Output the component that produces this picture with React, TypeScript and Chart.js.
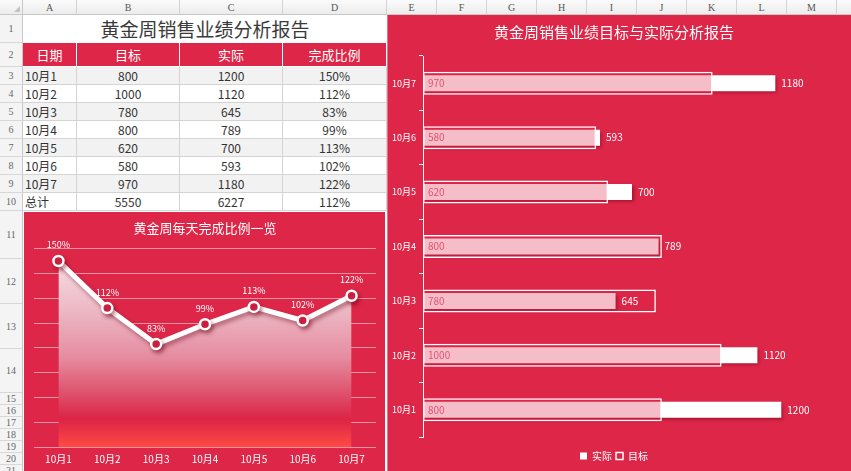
import React, { useEffect, useRef } from 'react';
import { Chart, registerables } from 'chart.js';

Chart.register(...registerables);

// ---------- data ----------
const days = ['10月1', '10月2', '10月3', '10月4', '10月5', '10月6', '10月7'];
const targets = [800, 1000, 780, 800, 620, 580, 970];
const actuals = [1200, 1120, 645, 789, 700, 593, 1180];
const ratios = [150, 112, 83, 99, 113, 102, 122];
const totalLabel = '总计';
const totalTarget = 5550;
const totalActual = 6227;
const totalRatio = 112;
const tableHeaders = ['日期', '目标', '实际', '完成比例'];
const seriesNames = ['实际', '目标'];
const reportTitle = '黄金周销售业绩分析报告';
const lineTitle = '黄金周每天完成比例一览';
const barTitle = '黄金周销售业绩目标与实际分析报告';
const ratioMin = 0;
const ratioMax = 160;
const ratioStep = 20;
const valueMin = 0;
const valueMax = 1400;
const colLetters = ['A', 'B', 'C', 'D', 'E', 'F', 'G', 'H', 'I', 'J', 'K', 'L', 'M', 'N'];
const rowNumbers = [1, 2, 3, 4, 5, 6, 7, 8, 9, 10, 11, 12, 13, 14, 15, 16, 17, 18, 19, 20, 21];

// ---------- layout / style ----------
const FONT = '"Noto Sans CJK SC", "Noto Sans", sans-serif';
const RED = '#DD2648';
const colEdges = [23, 77, 180, 283, 387, 437, 487, 537, 587, 637, 687, 737, 787, 837, 887];
const rowEdges = [15, 43, 67, 85, 103, 121, 139, 157, 175, 193, 211, 259, 304, 349, 393, 405, 417, 429, 441, 453, 465, 477];

Chart.defaults.font.family = FONT;

function LineChart() {
  const ref = useRef<HTMLCanvasElement>(null);
  useEffect(() => {
    if (!ref.current) return;
    const shadow = {
      id: 'lineShadow',
      beforeDatasetDraw(chart: any) {
        const c = chart.ctx;
        c.save();
        c.shadowColor = 'rgba(110,0,25,0.45)';
        c.shadowBlur = 4;
        c.shadowOffsetX = 2;
        c.shadowOffsetY = 3;
      },
      afterDatasetDraw(chart: any) {
        chart.ctx.restore();
      },
    };
    const labels = {
      id: 'lineLabels',
      afterDatasetsDraw(chart: any) {
        const c = chart.ctx;
        const meta = chart.getDatasetMeta(0);
        c.save();
        c.fillStyle = '#fff';
        c.font = `9px ${FONT}`;
        c.textAlign = 'center';
        c.textBaseline = 'middle';
        meta.data.forEach((pt: any, i: number) => {
          c.fillText(ratios[i] + '%', pt.x, pt.y - 16);
        });
        c.restore();
      },
    };
    const chart = new Chart(ref.current, {
      type: 'line',
      data: {
        labels: days,
        datasets: [
          {
            data: ratios,
            borderColor: '#fff',
            borderWidth: 5,
            pointRadius: 5,
            pointBorderWidth: 2.5,
            pointBackgroundColor: RED,
            pointBorderColor: '#fff',
            tension: 0,
            fill: 'origin',
            backgroundColor: (ctx: any) => {
              const area = ctx.chart.chartArea;
              if (!area) return 'rgba(255,255,255,0.5)';
              const g = ctx.chart.ctx.createLinearGradient(0, area.top, 0, area.bottom);
              g.addColorStop(0, '#F8E6EA');
              g.addColorStop(0.3, '#EDBAC6');
              g.addColorStop(0.55, '#E58CA0');
              g.addColorStop(0.75, '#DE4A66');
              g.addColorStop(0.86, '#DC2446');
              g.addColorStop(1, '#FF4A44');
              return g;
            },
          },
        ],
      },
      options: {
        responsive: false,
        animation: false,
        layout: { padding: { left: 10, right: 9, top: 0, bottom: 0 } },
        scales: {
          x: {
            offset: true,
            grid: { display: false, drawTicks: false },
            border: { display: false },
            ticks: { color: '#fff', font: { size: 10 }, padding: 6 },
          },
          y: {
            min: ratioMin,
            max: ratioMax,
            ticks: { stepSize: ratioStep, display: false },
            grid: { color: 'rgba(255,255,255,0.5)', drawTicks: false },
            border: { display: false },
            afterFit: (s: any) => {
              s.width = 0;
            },
          },
        },
        plugins: {
          legend: { display: false },
          tooltip: { enabled: false },
          title: {
            display: true,
            text: lineTitle,
            color: '#fff',
            font: { size: 13, weight: 'normal' },
            padding: { top: 8, bottom: 13 },
          },
        },
      },
      plugins: [shadow, labels],
    } as any);
    return () => chart.destroy();
  }, []);
  return <canvas ref={ref} width={361} height={259} style={{ display: 'block', width: 361, height: 259 }} />;
}

function BarChart() {
  const ref = useRef<HTMLCanvasElement>(null);
  useEffect(() => {
    if (!ref.current) return;
    const shadow = {
      id: 'barShadow',
      beforeDatasetDraw(chart: any, args: any) {
        const c = chart.ctx;
        c.save();
        if (args.index === 0) {
          c.shadowColor = 'rgba(110,0,25,0.5)';
          c.shadowBlur = 3;
          c.shadowOffsetX = 2;
          c.shadowOffsetY = 2;
        }
      },
      afterDatasetDraw(chart: any) {
        chart.ctx.restore();
      },
    };
    const labels = {
      id: 'barLabels',
      afterDatasetsDraw(chart: any) {
        const c = chart.ctx;
        const a = chart.getDatasetMeta(0);
        const t = chart.getDatasetMeta(1);
        c.save();
        c.font = `10px ${FONT}`;
        c.textBaseline = 'middle';
        c.textAlign = 'left';
        a.data.forEach((bar: any, i: number) => {
          c.fillStyle = '#fff';
          c.fillText(String(actuals[i]), bar.x + 6, bar.y);
        });
        t.data.forEach((bar: any, i: number) => {
          c.fillStyle = '#E05470';
          c.fillText(String(targets[i]), bar.base + 5, bar.y);
        });
        c.restore();
      },
    };
    const chart = new Chart(ref.current, {
      type: 'bar',
      data: {
        labels: days,
        datasets: [
          {
            label: seriesNames[0],
            data: actuals,
            backgroundColor: '#fff',
            borderWidth: 0,
            grouped: false,
            order: 1,
            barPercentage: 0.9,
            categoryPercentage: 0.9,
            maxBarThickness: 16,
          },
          {
            label: seriesNames[1],
            data: targets,
            backgroundColor: 'rgba(221,38,72,0.3)',
            borderColor: '#fff',
            borderWidth: 1.5,
            borderSkipped: false,
            grouped: false,
            order: 0,
            barPercentage: 0.9,
            categoryPercentage: 0.9,
            maxBarThickness: 23,
          },
        ],
      },
      options: {
        indexAxis: 'y',
        responsive: false,
        animation: false,
        layout: { padding: { left: 0, right: 10, top: 0, bottom: 0 } },
        scales: {
          x: {
            display: true,
            min: valueMin,
            max: valueMax,
            ticks: { display: false },
            grid: { display: false, drawTicks: false },
            border: { display: false },
            afterFit: (s: any) => {
              s.height = 10;
            },
          },
          y: {
            reverse: true,
            grid: { display: true, drawOnChartArea: false, drawTicks: true, tickLength: 4, color: '#fff', offset: true },
            border: { display: true, color: '#fff', width: 1 },
            ticks: { color: '#fff', font: { size: 9 }, padding: 3 },
            afterFit: (s: any) => {
              s.width = 36;
            },
          },
        },
        plugins: {
          tooltip: { enabled: false },
          title: {
            display: true,
            text: barTitle,
            color: '#fff',
            font: { size: 15, weight: 'normal' },
            padding: { top: 8, bottom: 15 },
          },
          legend: {
            position: 'bottom',
            labels: {
              color: '#fff',
              boxWidth: 7,
              boxHeight: 7,
              padding: 4,
              font: { size: 10 },
              sort: (x: any, y: any) => x.datasetIndex - y.datasetIndex,
            },
          },
        },
      },
      plugins: [shadow, labels],
    } as any);
    return () => chart.destroy();
  }, []);
  return <canvas ref={ref} width={464} height={456} style={{ display: 'block', width: 464, height: 456 }} />;
}

function Cell(props: { x0: number; x1: number; y0: number; y1: number; bg: string; color: string; size: number; align?: any; border?: string; children?: any }) {
  const { x0, x1, y0, y1, bg, color, size, align, border, children } = props;
  return (
    <div
      style={{
        position: 'absolute',
        left: x0,
        top: y0,
        width: x1 - x0,
        height: y1 - y0,
        background: bg,
        color,
        fontSize: size,
        lineHeight: `${y1 - y0}px`,
        textAlign: align || 'center',
        boxSizing: 'border-box',
        borderRight: border ? `1px solid ${border}` : undefined,
        borderBottom: border ? `1px solid ${border}` : undefined,
        paddingLeft: align === 'left' ? 2 : 0,
        whiteSpace: 'nowrap',
        overflow: 'hidden',
      }}
    >
      {children}
    </div>
  );
}

export default function App() {
  const bodyRows = days.map((d, i) => [d, String(targets[i]), String(actuals[i]), ratios[i] + '%']);
  bodyRows.push([totalLabel, String(totalTarget), String(totalActual), totalRatio + '%']);
  return (
    <div style={{ position: 'fixed', left: 0, top: 0, width: 851, height: 471, background: '#fff', overflow: 'hidden', fontFamily: FONT }}>
      {/* column header */}
      <div style={{ position: 'absolute', left: 0, top: 0, width: 851, height: 15, background: 'linear-gradient(#FBFBFB,#ECECEC)', borderBottom: '1px solid #C8C8C8', boxSizing: 'border-box' }} />
      <div style={{ position: 'absolute', left: 0, top: 0, width: 23, height: 15, boxSizing: 'border-box', borderRight: '1px solid #C8C8C8', borderBottom: '1px solid #C8C8C8', background: 'linear-gradient(#FBFBFB,#ECECEC)' }}>
        <div style={{ position: 'absolute', right: 2, bottom: 2, width: 0, height: 0, borderLeft: '6px solid transparent', borderBottom: '6px solid #C4C4C4' }} />
      </div>
      {colLetters.map((L, i) => (
        <div
          key={L}
          style={{
            position: 'absolute',
            left: colEdges[i],
            top: 0,
            width: colEdges[i + 1] - colEdges[i],
            height: 15,
            boxSizing: 'border-box',
            borderRight: '1px solid #D2D2D2',
            textAlign: 'center',
            fontFamily: '"Liberation Serif", serif',
            fontSize: 10,
            lineHeight: '15px',
            color: '#555',
          }}
        >
          {L}
        </div>
      ))}
      {/* row header */}
      {rowNumbers.map((n, i) => (
        <div
          key={n}
          style={{
            position: 'absolute',
            left: 0,
            top: rowEdges[i],
            width: 23,
            height: rowEdges[i + 1] - rowEdges[i],
            boxSizing: 'border-box',
            background: '#F4F4F4',
            borderRight: '1px solid #C8C8C8',
            borderBottom: '1px solid #D8D8D8',
            textAlign: 'center',
            fontFamily: '"Liberation Serif", serif',
            fontSize: 10,
            lineHeight: `${rowEdges[i + 1] - rowEdges[i]}px`,
            color: '#666',
          }}
        >
          {n}
        </div>
      ))}
      {/* title row */}
      <Cell x0={colEdges[0]} x1={colEdges[4]} y0={rowEdges[0]} y1={rowEdges[1]} bg="#fff" color="#3A3A3A" size={19}>
        {reportTitle}
      </Cell>
      {/* header row */}
      {tableHeaders.map((h, c) => (
        <Cell key={h} x0={colEdges[c]} x1={colEdges[c + 1]} y0={rowEdges[1]} y1={rowEdges[2]} bg={RED} color="#fff" size={13} border="#fff">
          {h}
        </Cell>
      ))}
      {/* body rows */}
      {bodyRows.map((r, ri) =>
        r.map((v, c) => (
          <Cell
            key={ri + '-' + c}
            x0={colEdges[c]}
            x1={colEdges[c + 1]}
            y0={rowEdges[ri + 2]}
            y1={rowEdges[ri + 3]}
            bg={ri % 2 === 0 ? '#F2F2F2' : '#fff'}
            color="#333"
            size={12}
            align={c === 0 ? 'left' : 'center'}
            border="#D4D4D4"
          >
            {v}
          </Cell>
        ))
      )}
      {/* line chart */}
      <div style={{ position: 'absolute', left: 24, top: 212, width: 361, height: 259, background: RED }}>
        <LineChart />
      </div>
      {/* bar chart */}
      <div style={{ position: 'absolute', left: 387, top: 15, width: 464, height: 456, background: RED, boxShadow: 'inset 1px 0 0 rgba(255,255,255,0.35)' }}>
        <BarChart />
      </div>
    </div>
  );
}
